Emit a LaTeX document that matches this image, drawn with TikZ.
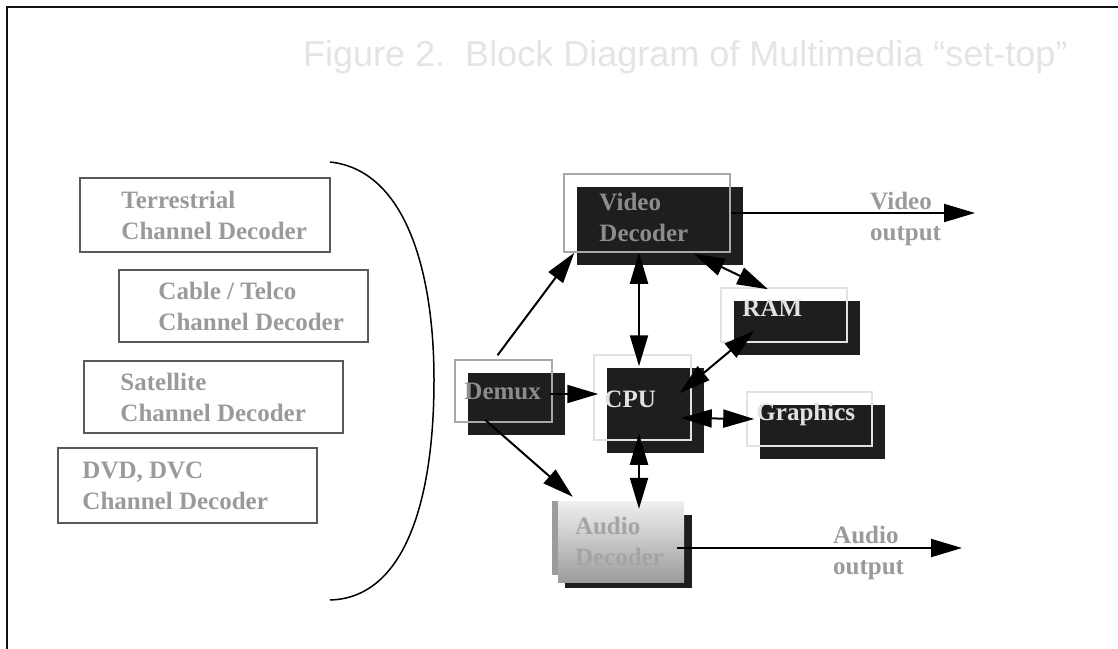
\documentclass[tikz,border=0pt]{standalone}
\usepackage{fontspec}
\setmainfont{Liberation Serif}
\newfontfamily\captionfont{Liberation Sans}
\usetikzlibrary{positioning, arrows.meta, shadows, backgrounds}

\definecolor{frameblack}{HTML}{111111}
\definecolor{chanline}{HTML}{595959}
\definecolor{chantext}{HTML}{9A9A9A}
\definecolor{blockfill}{HTML}{1E1E1E}
\definecolor{blockline}{HTML}{A8A8A8}
\definecolor{blocktext}{HTML}{8C8C8C}
\definecolor{lightline}{HTML}{E2E2E2}
\definecolor{lighttext}{HTML}{E2E2E2}
\definecolor{audtext}{HTML}{A4A4A4}
\definecolor{stripgrey}{HTML}{9C9C9C}
\definecolor{titlegrey}{HTML}{E4E4E4}

\tikzset{
  chanbox/.style={draw=chanline, line width=1.5pt},
  boxfont/.style={font=\bfseries\fontsize{25}{31}\selectfont, inner sep=0pt, align=left},
  chantxt/.style={boxfont, text=chantext},
  blockbox/.style={draw=#1, line width=1.5pt,
    general shadow={fill=blockfill, shadow xshift=12.5pt, shadow yshift=-12.5pt}},
  darktxt/.style={boxfont, text=blocktext},
  lighttxt/.style={boxfont, text=lighttext},
  arr/.style={line width=2pt, -{Triangle[length=31pt, width=18pt]}},
  dblarr/.style={line width=2pt, {Triangle[length=31pt, width=18pt]}-{Triangle[length=31pt, width=18pt]}},
}

\begin{document}
\begin{tikzpicture}[x=1pt, y=-1pt]
            \clip (0,0) rectangle (1118,648);
            %Frame
            \draw[line width=2pt, frameblack] (1130,7) -- (7,7) -- (7,660);

            %Title
            \node[anchor=base west, inner sep=0pt, text=titlegrey, font=\captionfont\fontsize{36}{43}\selectfont] at (303,66) (title) {Figure 2.\ \ Block Diagram of Multimedia “set-top”};

            %Channel decoders
            \node[chanbox, minimum width=250, minimum height=74] at (205,215) (terr) {};
            \node[chantxt, right=42pt of terr.west] (terrlbl) {Terrestrial\\Channel Decoder};
            \node[chanbox, minimum width=249, minimum height=72] at (243.5,306) (cable) {};
            \node[chantxt, right=40pt of cable.west] (cablelbl) {Cable / Telco\\Channel Decoder};
            \node[chanbox, minimum width=259, minimum height=72] at (213.5,397) (sat) {};
            \node[chantxt, right=37pt of sat.west] (satlbl) {Satellite\\Channel Decoder};
            \node[chanbox, minimum width=259, minimum height=75] at (187.5,485.5) (dvd) {};
            \node[chantxt, right=25pt of dvd.west] (dvdlbl) {DVD, DVC\\Channel Decoder};

            %Bracket
            \draw[line width=1.5pt] (330,162) .. controls (405,170) and (434,270) .. (434,380)
                .. controls (434,500) and (405,598) .. (330,600);

            %Blocks
            \node[blockbox=blockline, minimum width=166, minimum height=78] at (647,213) (vid) {};
            \node[darktxt, right=36pt of vid.west, yshift=-4pt] (vidlbl) {Video\\Decoder};
            \node[blockbox=blockline, minimum width=97, minimum height=62] at (503.5,391) (demux) {};
            \node[darktxt, right=10pt of demux.west] (demuxlbl) {Demux};
            \node[blockbox=lightline, minimum width=97, minimum height=85] at (642.5,397.5) (cpu) {};
            \node[lighttxt, right=11pt of cpu.west, yshift=-2pt] (cpulbl) {CPU};
            \node[blockbox=lightline, minimum width=126, minimum height=54] at (784,315) (ram) {};
            \node[lighttxt, right=22pt of ram.west, yshift=6.5pt] (ramlbl) {RAM};
            \node[blockbox=lightline, minimum width=125, minimum height=54] at (809.5,419) (gfx) {};
            \node[lighttxt, right=10pt of gfx.west, yshift=5pt] (gfxlbl) {Graphics};

            %Audio decoder
            \node[minimum width=126, minimum height=81, top color=white!94!black, bottom color=stripgrey] at (621,541.5) (aud) {};
            \begin{pgfonlayer}{background}
                \fill[blockfill] ([shift={(7,14)}]aud.north west) rectangle ([shift={(8,6)}]aud.south east);
                \fill[stripgrey] ([shift={(-6,0)}]aud.north west) rectangle ([shift={(0,-7)}]aud.south west);
            \end{pgfonlayer}
            \node[boxfont, text=audtext, right=17pt of aud.west] (audlbl) {Audio\\Decoder};

            %Arrows
            \draw[arr] ([shift={(-6,-4)}]demux.north) -- ([shift={(11,0)}]vid.south west);
            \draw[arr] ([shift={(-4,3)}]demux.east) -- ([shift={(5,-3.5)}]cpu.west);
            \draw[arr] ([shift={(-18.5,-3)}]demux.south) -- ([shift={(15,-4)}]aud.north west);
            \draw[dblarr] ([shift={(-8,0)}]vid.south) -- ([shift={(-3.5,12)}]cpu.north);
            \draw[dblarr] ([shift={(-37,1)}]vid.south east) -- ([shift={(-16,2)}]ram.north);
            \draw[dblarr] ([shift={(34,-12)}]ram.south west) -- ([shift={(-12,-4.5)}]cpu.east);
            \draw[dblarr] ([shift={(-11,20.5)}]cpu.east) -- ([shift={(8,0)}]gfx.west);
            \draw[dblarr] ([shift={(-3.5,-7)}]cpu.south) -- ([shift={(18,8)}]aud.north);

            %Outputs
            \coordinate (vidout) at (975,213);
            \coordinate (audout) at (962,548);
            \draw[arr] (vid.east) -- (vidout);
            \draw[arr] ([shift={(-7,6.5)}]aud.east) -- (audout);
            \node[chantxt, anchor=west] at (870,219) (vidoutlbl) {Video\\output};
            \node[chantxt, anchor=west] at (833,553) (audoutlbl) {Audio\\output};
        \end{tikzpicture}
\end{document}
